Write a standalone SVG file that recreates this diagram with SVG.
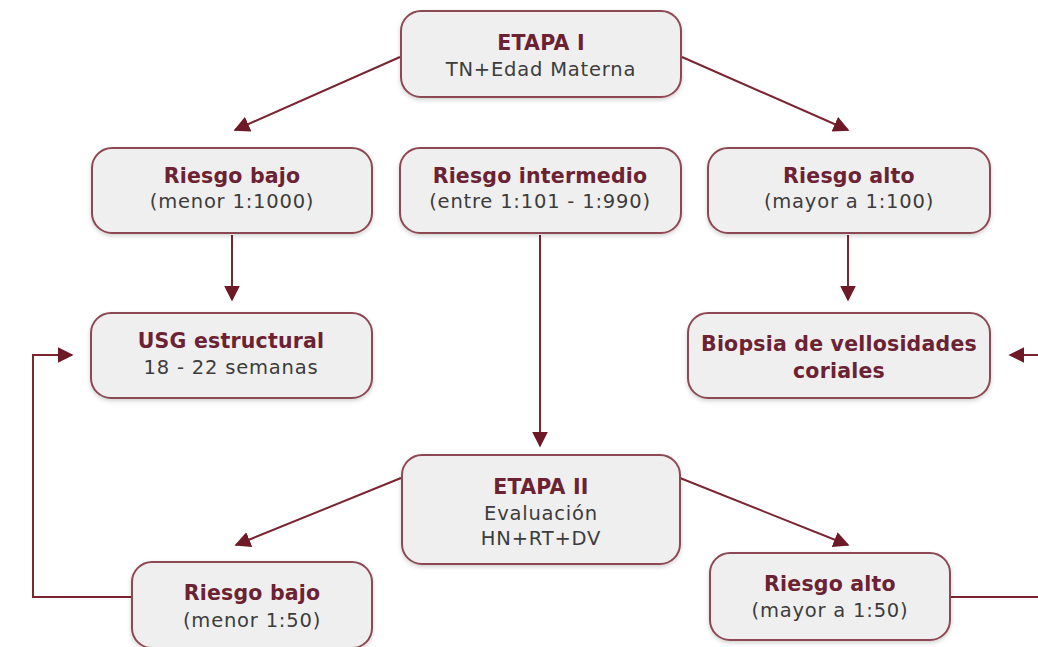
<svg xmlns="http://www.w3.org/2000/svg" width="1038" height="647" viewBox="0 0 1038 647">
<defs>
<style>
.box{fill:#f0eff0;stroke:#8c4a52;stroke-width:2}
.t{font-family:"DejaVu Sans",sans-serif;font-weight:bold;font-size:20.5px;letter-spacing:0.2px;fill:#6b2232;text-anchor:middle}
.s{font-family:"DejaVu Sans",sans-serif;font-size:19.5px;letter-spacing:0.8px;fill:#3c3c3c;text-anchor:middle}
.c{fill:none;stroke:#7a2530;stroke-width:2}
</style>
<filter id="sh" x="-10%" y="-10%" width="120%" height="130%"><feDropShadow dx="0" dy="2" stdDeviation="2" flood-color="#000" flood-opacity="0.18"/></filter>
<marker id="ah2" viewBox="0 0 10 10" refX="9" refY="5" markerWidth="16" markerHeight="16" markerUnits="userSpaceOnUse" orient="auto"><path d="M0,0 L10,5 L0,10 z" fill="#6e1a26"/></marker>
</defs>
<rect width="1038" height="647" fill="#ffffff"/>
<g id="connectors">
<path class="c" d="M400,57 L235,130" marker-end="url(#ah2)"/>
<path class="c" d="M682,57 L848,130" marker-end="url(#ah2)"/>
<path class="c" d="M232,235 L232,300" marker-end="url(#ah2)"/>
<path class="c" d="M540,235 L540,446" marker-end="url(#ah2)"/>
<path class="c" d="M848,235 L848,300" marker-end="url(#ah2)"/>
<path class="c" d="M401,478 L236,545" marker-end="url(#ah2)"/>
<path class="c" d="M680,478 L848,545" marker-end="url(#ah2)"/>
<path class="c" d="M132,597 L33,597 L33,355 L72,355" marker-end="url(#ah2)"/>
<path class="c" d="M950,597 L1038,597"/>
<path class="c" d="M1040,355 L1010,355" marker-end="url(#ah2)"/>
</g>
<g id="etapa1"><rect class="box" filter="url(#sh)" x="401" y="11" width="280" height="86" rx="20"/>
<text class="t" x="541" y="50">ETAPA I</text><text class="s" x="541" y="76">TN+Edad Materna</text></g>
<g id="riesgo-bajo"><rect class="box" filter="url(#sh)" x="92" y="148" width="280" height="85" rx="20"/>
<text class="t" x="232" y="183">Riesgo bajo</text><text class="s" x="232" y="208">(menor 1:1000)</text></g>
<g id="riesgo-intermedio"><rect class="box" filter="url(#sh)" x="400" y="148" width="281" height="85" rx="20"/>
<text class="t" x="540" y="183">Riesgo intermedio</text><text class="s" x="540" y="208">(entre 1:101 - 1:990)</text></g>
<g id="riesgo-alto"><rect class="box" filter="url(#sh)" x="708" y="148" width="282" height="85" rx="20"/>
<text class="t" x="849" y="183">Riesgo alto</text><text class="s" x="849" y="208">(mayor a 1:100)</text></g>
<g id="usg"><rect class="box" filter="url(#sh)" x="91" y="313" width="281" height="85" rx="20"/>
<text class="t" x="231" y="348">USG estructural</text><text class="s" x="231" y="374">18 - 22 semanas</text></g>
<g id="biopsia"><rect class="box" filter="url(#sh)" x="688" y="313" width="302" height="85" rx="20"/>
<text class="t" x="839" y="351">Biopsia de vellosidades</text><text class="t" x="839" y="378">coriales</text></g>
<g id="etapa2"><rect class="box" filter="url(#sh)" x="402" y="455" width="278" height="109" rx="20"/>
<text class="t" x="541" y="494">ETAPA II</text><text class="s" x="541" y="520">Evaluación</text><text class="s" x="541" y="545">HN+RT+DV</text></g>
<g id="riesgo-bajo-2"><rect class="box" filter="url(#sh)" x="132" y="562" width="240" height="86" rx="20"/>
<text class="t" x="252" y="600">Riesgo bajo</text><text class="s" x="252" y="627">(menor 1:50)</text></g>
<g id="riesgo-alto-2"><rect class="box" filter="url(#sh)" x="710" y="553" width="240" height="87" rx="20"/>
<text class="t" x="830" y="591">Riesgo alto</text><text class="s" x="830" y="617">(mayor a 1:50)</text></g>
</svg>
